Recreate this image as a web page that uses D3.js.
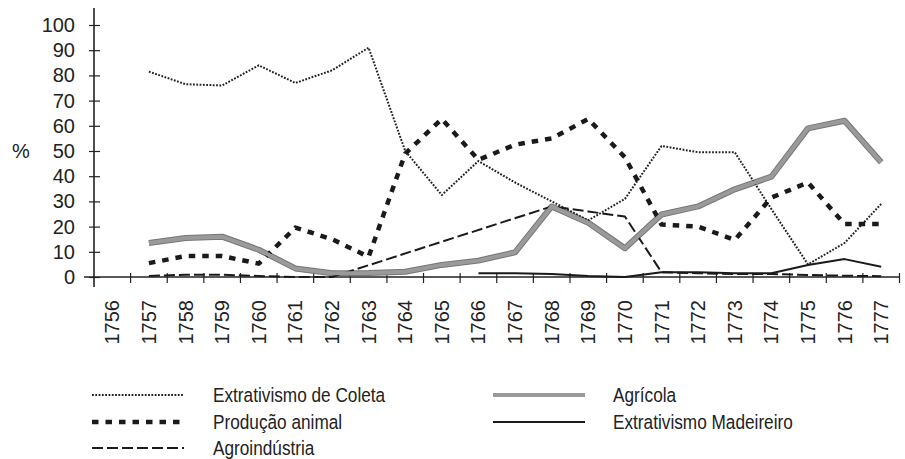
<!DOCTYPE html>
<html>
<head>
<meta charset="utf-8">
<script src="https://cdn.jsdelivr.net/npm/d3@7"></script>
<style>
  body { margin: 0; background: #fff; }
  text { font-family: "Liberation Sans", Arial, sans-serif; fill: #222; }
</style>
</head>
<body>
<script>
// years on the x axis
let years = d3.range(1756, 1778).map(String);
let yTicks = [0, 10, 20, 30, 40, 50, 60, 70, 80, 90, 100];

// series values (%), null = no data
let coleta    = [null, 81.5, 76.5, 76, 84, 77, 82, 91, 50, 32.5, 46, 37.5, 30, 22.5, 31, 52, 49.5, 49.5, 27, 5, 13.5, 29];
let animal    = [null, 5.5, 8.3, 8.3, 5.3, 19.6, 15, 8, 49, 62.7, 46.5, 52.5, 55, 62.7, 47.5, 20.8, 20, 14.7, 31.5, 37.5, 21, 21];
let agroind   = [null, 0.4, 0.9, 0.9, 0.4, 0, 0, null, null, null, null, null, 28, 26, 24, 1.9, 1.5, 1.2, 1.2, 0.8, 0.5, 0.3];
let agricola  = [null, 13.5, 15.5, 16, 10.8, 3.4, 1.5, 1.6, 2.1, 4.8, 6.5, 9.8, 28, 21.5, 11.4, 24.8, 28, 34.8, 39.8, 59, 62, 45.5];
let madeireiro = [null, null, null, null, null, null, null, null, null, null, 1.5, 1.5, 1.2, 0.4, 0, 1.9, 1.9, 1.5, 1.5, 4.8, 7.1, 4.1];

let width = 905;
let height = 459;

let svg = d3.select("body").append("svg")
  .attr("width", width)
  .attr("height", height);

// scales
let x = d3.scaleBand().domain(years).range([94, 899.5]);
let y = d3.scaleLinear().domain([0, 100]).range([277, 25]);
let cx = function(d, i) { return x(years[i]) + x.bandwidth() / 2; };

// y axis
let yAxis = svg.append("g")
  .attr("transform", "translate(94,0)")
  .call(d3.axisLeft(y).tickValues(yTicks).tickSize(5).tickPadding(14));
yAxis.select(".domain").remove();
yAxis.selectAll(".tick line").attr("x1", -5).attr("x2", 6).attr("stroke", "#222").attr("stroke-width", 1.2);
yAxis.selectAll(".tick text").style("font-size", "20px").attr("fill", "#222")
  .style("font-family", "'Liberation Sans', Arial, sans-serif");
svg.append("line").attr("x1", 94).attr("x2", 94).attr("y1", 8).attr("y2", 287)
  .attr("stroke", "#222").attr("stroke-width", 1.6);

svg.append("text").attr("x", 12).attr("y", y(50)).attr("dy", "0.35em")
  .style("font-size", "20px").text("%");

// x axis: ticks on band edges, labels rotated in band centres
svg.append("line").attr("x1", 84).attr("x2", 900).attr("y1", y(0)).attr("y2", y(0))
  .attr("stroke", "#222").attr("stroke-width", 1.6);
svg.append("g").selectAll("line")
  .data(years.slice(1).concat(["end"]))
  .enter().append("line")
  .attr("x1", function(d) { return d === "end" ? x.range()[1] : x(d); })
  .attr("x2", function(d) { return d === "end" ? x.range()[1] : x(d); })
  .attr("y1", y(0) - 4).attr("y2", y(0) + 6)
  .attr("stroke", "#222").attr("stroke-width", 1.2);

svg.append("g").selectAll("text")
  .data(years)
  .enter().append("text")
  .attr("transform", function(d) { return "translate(" + (x(d) + x.bandwidth() / 2) + ",300) rotate(-90)"; })
  .attr("text-anchor", "end")
  .attr("dy", "0.35em")
  .style("font-size", "20px")
  .text(function(d) { return d; });

// series
let series = [
  { name: "Extrativismo de Coleta", values: coleta, stroke: "#222", width: 2, dash: "1.8 1.5" },
  { name: "Produção animal", values: animal, stroke: "#1a1a1a", width: 4.5, dash: "6.5 7" },
  { name: "Agroindústria", values: agroind, stroke: "#1a1a1a", width: 2, dash: "11 4" },
  { name: "Agrícola", values: agricola, stroke: "#9a9a9a", width: 4, dash: null },
  { name: "Extrativismo Madeireiro", values: madeireiro, stroke: "#1a1a1a", width: 2, dash: null }
];

let line = d3.line()
  .x(function(d) { return d.x; })
  .y(function(d) { return y(d.v); });

function pts(vals) {
  return vals.map(function(v, i) { return { x: cx(v, i), v: v }; })
    .filter(function(d) { return d.v !== null; });
}

let plot = svg.append("g");
// grey series has a darker rim
plot.append("path")
  .attr("d", line(pts(agricola)))
  .attr("fill", "none").attr("stroke", "#777").attr("stroke-width", 6)
  .attr("stroke-linejoin", "round");

series.forEach(function(s) {
  plot.append("path")
    .attr("d", line(pts(s.values)))
    .attr("fill", "none")
    .attr("stroke", s.stroke)
    .attr("stroke-width", s.width)
    .attr("stroke-dasharray", s.dash)
    .attr("stroke-linejoin", "round");
});

// legend (text squeezed to match the narrow face of the original)
let legPos = [
  { x: 92, y: 395 }, { x: 92, y: 422 }, { x: 92, y: 448 },
  { x: 493, y: 395 }, { x: 493, y: 422 }
];
let leg = svg.append("g");
series.forEach(function(s, i) {
  let p = legPos[i];
  leg.append("line")
    .attr("x1", p.x).attr("x2", p.x + 92)
    .attr("y1", p.y).attr("y2", p.y)
    .attr("stroke", s.stroke)
    .attr("stroke-width", s.name === "Agrícola" ? 4 : s.width)
    .attr("stroke-dasharray", s.dash);
  leg.append("text")
    .attr("transform", "translate(" + (p.x + (i < 3 ? 121 : 120)) + "," + p.y + ") scale(0.84,1)")
    .attr("dy", "0.35em")
    .style("font-size", "20.5px")
    .text(s.name);
});
</script>
</body>
</html>
